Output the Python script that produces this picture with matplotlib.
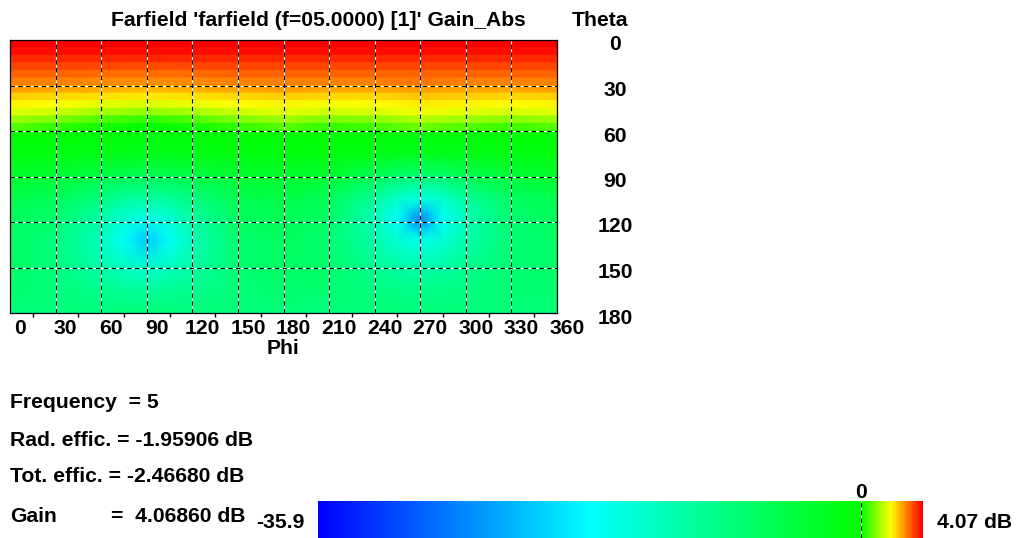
import numpy as np
import matplotlib
matplotlib.use("Agg")
import matplotlib.pyplot as plt
from matplotlib.colors import LinearSegmentedColormap, Normalize
from matplotlib.transforms import ScaledTranslation

plt.rcParams["font.family"] = ["Liberation Sans", "DejaVu Sans"]
plt.rcParams["font.weight"] = "bold"

# Gain colour scale limits (dB)
gain_min = -35.9
gain_max = 4.07

# Upper cap: gain per 5-degree theta band, phi sampled every 30 degrees
theta_band_edges = [0, 5, 10, 15, 20, 25, 30, 35, 40, 45, 50, 55, 60]
phi_top = [0, 30, 60, 90, 120, 150, 180, 210, 240, 270, 300, 330, 360]
gain_top = [
    [4.05, 4.05, 4.05, 4.05, 4.05, 4.05, 4.05, 4.05, 4.05, 4.05, 4.05, 4.05, 4.05],
    [3.93, 3.93, 3.92, 3.92, 3.92, 3.93, 3.93, 3.93, 3.93, 3.93, 3.93, 3.93, 3.93],
    [3.75, 3.74, 3.72, 3.71, 3.72, 3.74, 3.75, 3.74, 3.74, 3.75, 3.74, 3.74, 3.75],
    [3.50, 3.48, 3.45, 3.44, 3.45, 3.48, 3.50, 3.48, 3.48, 3.50, 3.49, 3.48, 3.50],
    [3.27, 3.24, 3.20, 3.18, 3.20, 3.24, 3.27, 3.24, 3.25, 3.28, 3.26, 3.25, 3.27],
    [3.05, 3.00, 2.95, 2.92, 2.95, 3.00, 3.05, 3.00, 3.02, 3.06, 3.03, 3.01, 3.05],
    [2.75, 2.70, 2.60, 2.55, 2.60, 2.70, 2.75, 2.70, 2.70, 2.78, 2.72, 2.70, 2.75],
    [2.42, 2.32, 2.20, 2.12, 2.20, 2.32, 2.42, 2.32, 2.35, 2.45, 2.38, 2.32, 2.42],
    [2.10, 1.98, 1.80, 1.70, 1.82, 1.98, 2.10, 1.95, 2.02, 2.15, 2.05, 1.98, 2.10],
    [1.80, 1.60, 1.30, 1.18, 1.32, 1.60, 1.80, 1.60, 1.72, 1.95, 1.78, 1.65, 1.80],
    [1.25, 1.00, 0.60, 0.40, 0.60, 1.00, 1.25, 1.00, 1.10, 1.40, 1.20, 1.05, 1.25],
    [0.65, 0.40, 0.10, 0.00, 0.10, 0.40, 0.65, 0.40, 0.50, 0.80, 0.60, 0.45, 0.65],
]

# Rest of the sphere: gain at (theta, phi) nodes
theta_low = [60, 75, 90, 105, 118, 132, 150, 165, 180]
phi_low = [0, 30, 60, 75, 90, 105, 120, 150, 180, 210, 240, 255, 270, 285, 300, 330, 360]
gain_low = [
    [-0.3, -0.3, -0.4, -0.4, -0.5, -0.4, -0.4, -0.3, -0.2, -0.3, -0.3, -0.4, -0.4, -0.4, -0.3, -0.3, -0.3],
    [-1.0, -1.2, -1.6, -1.7, -1.8, -1.7, -1.5, -1.1, -0.9, -1.0, -1.5, -1.8, -2.0, -1.8, -1.5, -1.2, -1.0],
    [-3.2, -3.8, -5.0, -5.8, -6.2, -5.8, -5.0, -3.6, -3.2, -3.6, -6.0, -7.5, -8.0, -7.5, -6.0, -4.0, -3.2],
    [-5.5, -6.3, -9.0, -11.0, -11.5, -11.0, -9.0, -5.8, -5.0, -6.2, -11.0, -14.5, -16.0, -14.5, -11.0, -6.8, -5.5],
    [-6.5, -7.8, -12.0, -15.0, -16.5, -15.0, -11.5, -6.8, -6.0, -7.2, -13.0, -17.5, -27.0, -17.5, -13.0, -7.8, -6.5],
    [-7.0, -8.8, -13.5, -17.5, -22.0, -17.5, -13.0, -7.8, -6.5, -7.8, -12.0, -15.0, -16.5, -15.0, -12.0, -8.3, -7.0],
    [-7.3, -8.6, -12.0, -13.5, -14.5, -13.5, -11.5, -8.0, -6.8, -7.6, -10.0, -11.5, -12.0, -11.5, -10.0, -8.0, -7.3],
    [-7.7, -8.6, -10.0, -10.5, -11.0, -10.5, -10.0, -8.5, -7.6, -8.0, -9.0, -9.5, -9.6, -9.5, -9.0, -8.1, -7.7],
    [-8.5, -8.5, -8.5, -8.5, -8.5, -8.5, -8.5, -8.5, -8.5, -8.5, -8.5, -8.5, -8.5, -8.5, -8.5, -8.5, -8.5],
]

phi_ticks = [0, 30, 60, 90, 120, 150, 180, 210, 240, 270, 300, 330, 360]
theta_ticks = [0, 30, 60, 90, 120, 150, 180]

title = "Farfield 'farfield (f=05.0000) [1]' Gain_Abs"
info_lines = ["Frequency  = 5", "Rad. effic. = -1.95906 dB", "Tot. effic. = -2.46680 dB"]
gain_label = "Gain"
gain_value = "=  4.06860 dB"

W, H = 1018, 538
fig = plt.figure(figsize=(W / 100, H / 100), dpi=100)
fig.patch.set_facecolor("white")


def fx(x):
    return x / W


def fy(y):
    return 1 - y / H


FS = 15.2

norm = Normalize(vmin=gain_min, vmax=gain_max)
node_vals = [gain_min, gain_min / 2, 0.0, gain_max / 2, gain_max]
node_cols = ["#0000ff", "#00ffff", "#00ff00", "#ffff00", "#ff0000"]
cmap = LinearSegmentedColormap.from_list(
    "farfield", list(zip([float(norm(v)) for v in node_vals], node_cols)), N=512
)

ax = fig.add_axes([fx(10), fy(313), 547 / W, 273 / H])

# banded cap: duplicate band edges so each band keeps a constant theta value
edges = np.array(theta_band_edges, dtype=float)
y_top = np.repeat(edges, 2)[1:-1]
c_top = np.repeat(np.array(gain_top), 2, axis=0)
Xt, Yt = np.meshgrid(np.array(phi_top, dtype=float), y_top)
ax.pcolormesh(Xt, Yt, c_top, shading="gouraud", cmap=cmap, norm=norm)

Xl, Yl = np.meshgrid(np.array(phi_low, dtype=float), np.array(theta_low, dtype=float))
ax.pcolormesh(Xl, Yl, np.array(gain_low), shading="gouraud", cmap=cmap, norm=norm)

ax.set_xlim(0, 360)
ax.set_ylim(180, 0)

# dashed black/white grid
for p in phi_ticks[1:-1]:
    ax.axvline(p, color="white", lw=0.8, zorder=3)
    ax.axvline(p, color="black", lw=0.8, ls=(0, (4, 3)), zorder=4)
for t in theta_ticks[1:-1]:
    ax.axhline(t, color="white", lw=0.8, zorder=3)
    ax.axhline(t, color="black", lw=0.8, ls=(0, (4, 3)), zorder=4)

for s in ax.spines.values():
    s.set_color("black")
    s.set_linewidth(0.9)
    s.set_zorder(5)

ax.set_xticks(phi_ticks)
ax.set_xticklabels([str(p) for p in phi_ticks], fontsize=FS, fontweight="bold")
ax.set_xticks([p + 15 for p in phi_ticks[:-1]], minor=True)
ax.tick_params(axis="x", which="major", length=0, pad=4)
ax.tick_params(axis="x", which="minor", length=3, width=1, color="black")
shift_x = ScaledTranslation(10 / 100, 0, fig.dpi_scale_trans)
for lab in ax.get_xticklabels():
    lab.set_transform(lab.get_transform() + shift_x)

ax.yaxis.tick_right()
ax.set_yticks(theta_ticks)
ax.set_yticklabels([str(t) for t in theta_ticks], fontsize=FS, fontweight="bold")
ax.tick_params(axis="y", which="major", length=0, pad=0)
shift_y = ScaledTranslation(58 / 100, -3 / 100, fig.dpi_scale_trans)
for lab in ax.get_yticklabels():
    lab.set_horizontalalignment("center")
    lab.set_transform(lab.get_transform() + shift_y)

ax.set_xlabel("Phi", fontsize=FS, fontweight="bold", va="center")
ax.xaxis.set_label_coords(0.5, -36 / 273)

fig.text(fx(318), fy(20), title, ha="center", va="center", fontsize=FS, fontweight="bold")
fig.text(fx(600), fy(20), "Theta", ha="center", va="center", fontsize=FS, fontweight="bold")

for i, line in enumerate(info_lines):
    fig.text(fx(10), fy(403 + 37 * i), line, ha="left", va="center", fontsize=FS, fontweight="bold")
fig.text(fx(10), fy(517), gain_label, ha="left", va="center", fontsize=FS, fontweight="bold")
fig.text(fx(111), fy(517), gain_value, ha="left", va="center", fontsize=FS, fontweight="bold")

# colour bar
cax = fig.add_axes([fx(318), 0, 605 / W, (H - 501) / H])
ramp = np.linspace(gain_min, gain_max, 600)[None, :]
cax.imshow(ramp, aspect="auto", cmap=cmap, norm=norm,
           extent=[gain_min, gain_max, 0, 1], interpolation="bilinear")
cax.set_xlim(gain_min, gain_max)
cax.set_ylim(0, 1)
cax.axvline(0, color="white", lw=0.8)
cax.axvline(0, color="black", lw=0.8, ls=(0, (4, 3)))
cax.set_axis_off()

fig.text(fx(280), fy(523), f"{gain_min:g}", ha="center", va="center", fontsize=FS, fontweight="bold")
fig.text(fx(975), fy(522), f"{gain_max:.2f} dB", ha="center", va="center", fontsize=FS, fontweight="bold")
x0 = fx(318) + norm(0.0) * 605 / W
fig.text(x0, fy(492), "0", ha="center", va="center", fontsize=FS, fontweight="bold")

fig.savefig("out.png", dpi=100, facecolor="white")
